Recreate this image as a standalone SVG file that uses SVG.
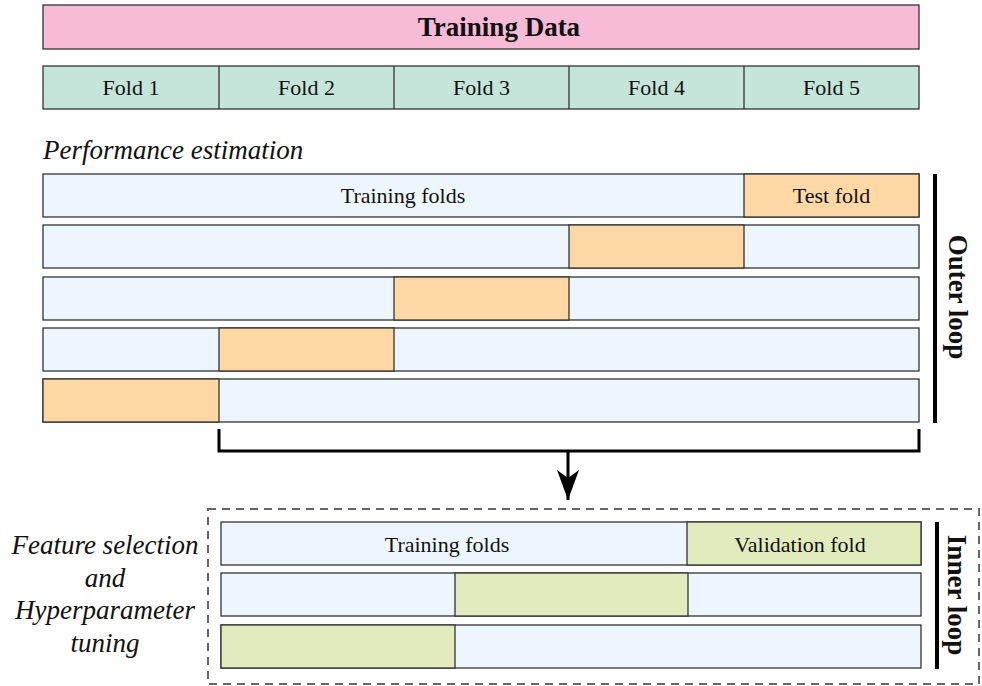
<svg xmlns="http://www.w3.org/2000/svg" width="982" height="686" viewBox="0 0 982 686">
  <style>
    .box { stroke: #333; stroke-width: 1.3; }
    .pink { fill: #F7BBD6; }
    .teal { fill: #C5E5DA; }
    .blue { fill: #EEF6FD; }
    .orange { fill: #FFD8A6; }
    .green { fill: #E1EBBE; }
    .lbl { font-family: "Liberation Serif", "Times New Roman", serif; font-size: 22px; fill: #111; text-anchor: middle; }
    .ital { font-family: "Liberation Serif", "Times New Roman", serif; font-size: 27px; font-style: italic; fill: #111; }
    .bold { font-family: "Liberation Serif", "Times New Roman", serif; font-size: 27px; font-weight: bold; fill: #111; text-anchor: middle; }
    .bar { stroke: #000; stroke-width: 4; }
  </style>
  <defs>
    <marker id="arrow" markerWidth="30" markerHeight="22" refX="30" refY="11" orient="auto" markerUnits="userSpaceOnUse" viewBox="0 0 30 22">
      <path d="M0,0 L30,11 L0,22 L8,11 Z" fill="#000"/>
    </marker>
  </defs>
  <rect width="982" height="686" fill="#fff"/>

  <!-- Full training set -->
  <g id="training-data">
    <rect class="box pink" x="43" y="5" width="876" height="44"/>
    <text class="bold" x="499" y="36">Training Data</text>
  </g>

  <!-- Five folds -->
  <g id="folds">
    <rect class="box teal" x="43" y="66" width="876" height="43"/>
    <line class="box" x1="219" y1="66" x2="219" y2="109"/>
    <line class="box" x1="394" y1="66" x2="394" y2="109"/>
    <line class="box" x1="569" y1="66" x2="569" y2="109"/>
    <line class="box" x1="744" y1="66" x2="744" y2="109"/>
    <text class="lbl" x="131" y="95">Fold 1</text>
    <text class="lbl" x="306.5" y="95">Fold 2</text>
    <text class="lbl" x="481.5" y="95">Fold 3</text>
    <text class="lbl" x="656.5" y="95">Fold 4</text>
    <text class="lbl" x="831.5" y="95">Fold 5</text>
  </g>

  <text class="ital" x="43" y="159">Performance estimation</text>

  <!-- Outer cross-validation splits -->
  <g id="outer-split-1">
    <rect class="box blue" x="43" y="174" width="876" height="43"/>
    <rect class="box orange" x="744" y="174" width="175" height="43"/>
    <text class="lbl" x="403" y="203">Training folds</text>
    <text class="lbl" x="831.5" y="203">Test fold</text>
  </g>
  <g id="outer-split-2">
    <rect class="box blue" x="43" y="225" width="876" height="43"/>
    <rect class="box orange" x="569" y="225" width="175" height="43"/>
  </g>
  <g id="outer-split-3">
    <rect class="box blue" x="43" y="277" width="876" height="43"/>
    <rect class="box orange" x="394" y="277" width="175" height="43"/>
  </g>
  <g id="outer-split-4">
    <rect class="box blue" x="43" y="328" width="876" height="43"/>
    <rect class="box orange" x="219" y="328" width="175" height="43"/>
  </g>
  <g id="outer-split-5">
    <rect class="box blue" x="43" y="379" width="876" height="43"/>
    <rect class="box orange" x="43" y="379" width="176" height="43"/>
  </g>

  <g id="outer-loop">
    <line class="bar" x1="935" y1="174" x2="935" y2="423"/>
    <text class="bold" transform="translate(949,297) rotate(90)">Outer loop</text>
  </g>

  <!-- Connectors -->
  <g id="connectors">
    <path d="M219,429 V451 H919 V429" fill="none" stroke="#000" stroke-width="3"/>
    <line x1="568" y1="451" x2="568" y2="500" stroke="#000" stroke-width="3" marker-end="url(#arrow)"/>
  </g>

  <!-- Inner loop region -->
  <g id="inner-region">
    <rect x="208" y="509" width="771" height="175" fill="none" stroke="#666" stroke-width="2" stroke-dasharray="8,6"/>
  </g>

  <g id="inner-label">
    <text class="ital" text-anchor="middle" x="105" y="554">Feature selection</text>
    <text class="ital" text-anchor="middle" x="105" y="587">and</text>
    <text class="ital" text-anchor="middle" x="105" y="619">Hyperparameter</text>
    <text class="ital" text-anchor="middle" x="105" y="652">tuning</text>
  </g>

  <g id="inner-split-1">
    <rect class="box blue" x="221" y="522" width="700" height="43"/>
    <rect class="box green" x="687" y="522" width="234" height="43"/>
    <text class="lbl" x="447" y="552">Training folds</text>
    <text class="lbl" x="800" y="552">Validation fold</text>
  </g>
  <g id="inner-split-2">
    <rect class="box blue" x="221" y="573" width="700" height="43"/>
    <rect class="box green" x="455" y="573" width="233" height="43"/>
  </g>
  <g id="inner-split-3">
    <rect class="box blue" x="221" y="625" width="700" height="43"/>
    <rect class="box green" x="221" y="625" width="234" height="43"/>
  </g>

  <g id="inner-loop">
    <line class="bar" x1="937" y1="522" x2="937" y2="669"/>
    <text class="bold" transform="translate(948,595) rotate(90)">Inner loop</text>
  </g>
</svg>
